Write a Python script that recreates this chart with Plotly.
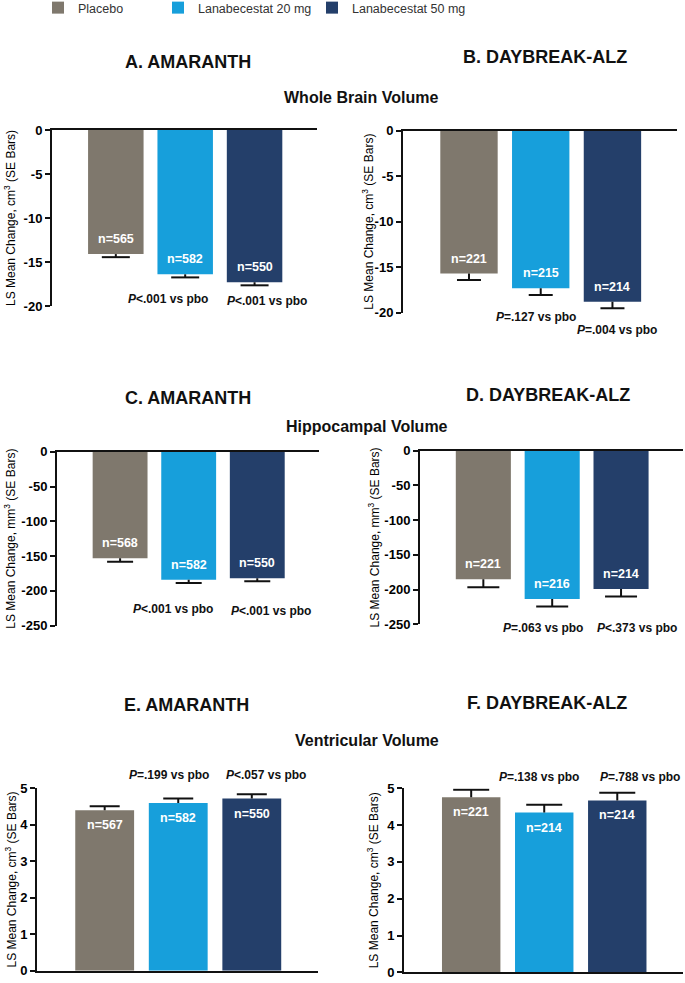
import plotly.graph_objects as go

W, H = 685, 983

def px(x):
    return x / W

def py(y):
    return 1 - y / H

# ---------------- data ----------------
groups = ["Placebo", "Lanabecestat 20 mg", "Lanabecestat 50 mg"]

amaranth_wbv = [-14.1, -16.4, -17.3]
amaranth_wbv_se = [0.35, 0.35, 0.35]
amaranth_wbv_n = [565, 582, 550]
amaranth_wbv_p = ["<i>P</i>&lt;.001 vs pbo", "<i>P</i>&lt;.001 vs pbo"]

daybreak_wbv = [-15.7, -17.3, -18.8]
daybreak_wbv_se = [0.7, 0.75, 0.7]
daybreak_wbv_n = [221, 215, 214]
daybreak_wbv_p = ["<i>P</i>=.127 vs pbo", "<i>P</i>=.004 vs pbo"]

amaranth_hv = [-153, -184, -182]
amaranth_hv_se = [5, 4.6, 4.2]
amaranth_hv_n = [568, 582, 550]
amaranth_hv_p = ["<i>P</i>&lt;.001 vs pbo", "<i>P</i>&lt;.001 vs pbo"]

daybreak_hv = [-185, -213.5, -199]
daybreak_hv_se = [11.5, 11, 11]
daybreak_hv_n = [221, 216, 214]
daybreak_hv_p = ["<i>P</i>=.063 vs pbo", "<i>P</i>&lt;.373 vs pbo"]

amaranth_vv = [4.40, 4.60, 4.72]
amaranth_vv_se = [0.11, 0.12, 0.12]
amaranth_vv_n = [567, 582, 550]
amaranth_vv_p = ["<i>P</i>=.199 vs pbo", "<i>P</i>&lt;.057 vs pbo"]

daybreak_vv = [4.76, 4.34, 4.67]
daybreak_vv_se = [0.2, 0.21, 0.21]
daybreak_vv_n = [221, 214, 214]
daybreak_vv_p = ["<i>P</i>=.138 vs pbo", "<i>P</i>=.788 vs pbo"]

wbv_ticks = [0, -5, -10, -15, -20]
hv_ticks = [0, -50, -100, -150, -200, -250]
vv_ticks = [0, 1, 2, 3, 4, 5]

panel_titles = ["A. AMARANTH", "B. DAYBREAK-ALZ", "C. AMARANTH",
                "D. DAYBREAK-ALZ", "E. AMARANTH", "F. DAYBREAK-ALZ"]
section_titles = ["Whole Brain Volume", "Hippocampal Volume", "Ventricular Volume"]
ytitle_cm = "LS Mean Change, cm<sup>3</sup> (SE Bars)"
ytitle_mm = "LS Mean Change, mm<sup>3</sup> (SE Bars)"

# ---------------- style / layout ----------------
colors = ["#7f786d", "#179fdb", "#243f6a"]
FONT = "Liberation Sans, Arial, sans-serif"
INK = "#111111"

panels = [
    dict(v=amaranth_wbv, se=amaranth_wbv_se, n=amaranth_wbv_n, p=amaranth_wbv_p,
         ticks=wbv_ticks, ytitle=ytitle_cm,
         xd=(52, 317), yd=(130, 306), title_xy=(188, 62), yt_x=10,
         p_xy=[(168, 299), (267, 301)], cap=14),
    dict(v=daybreak_wbv, se=daybreak_wbv_se, n=daybreak_wbv_n, p=daybreak_wbv_p,
         ticks=wbv_ticks, ytitle=ytitle_cm,
         xd=(403, 677), yd=(130.7, 312.7), title_xy=(545, 57), yt_x=368,
         p_xy=[(536, 317), (617, 330)], cap=12),
    dict(v=amaranth_hv, se=amaranth_hv_se, n=amaranth_hv_n, p=amaranth_hv_p,
         ticks=hv_ticks, ytitle=ytitle_mm,
         xd=(57, 319), yd=(451.7, 625.7), title_xy=(188, 398), yt_x=10,
         p_xy=[(173, 609), (271, 611)], cap=13),
    dict(v=daybreak_hv, se=daybreak_hv_se, n=daybreak_hv_n, p=daybreak_hv_p,
         ticks=hv_ticks, ytitle=ytitle_mm,
         xd=(420, 683), yd=(450.7, 624.3), title_xy=(548, 395), yt_x=373,
         p_xy=[(543, 628), (637, 628)], cap=16),
    dict(v=amaranth_vv, se=amaranth_vv_se, n=amaranth_vv_n, p=amaranth_vv_p,
         ticks=vv_ticks, ytitle=ytitle_cm,
         xd=(37, 318), yd=(788.3, 970.7), title_xy=(187, 705), yt_x=10,
         p_xy=[(169, 775), (266, 775)], cap=15),
    dict(v=daybreak_vv, se=daybreak_vv_se, n=daybreak_vv_n, p=daybreak_vv_p,
         ticks=vv_ticks, ytitle=ytitle_cm,
         xd=(404, 683), yd=(788.3, 972.3), title_xy=(547, 703), yt_x=373,
         p_xy=[(539, 777), (640, 777)], cap=18),
]
section_xy = [(361, 97), (367, 426), (366.5, 740)]

XR = [-0.92, 2.9]

fig = go.Figure()
annotations = []
layout_axes = {}

for k, P in enumerate(panels):
    sfx = "" if k == 0 else str(k + 1)
    xref, yref = "x" + sfx, "y" + sfx
    negative = min(P["v"]) < 0
    xs = list(range(len(groups)))

    for i, g in enumerate(groups):
        fig.add_trace(go.Bar(
            x=[xs[i]], y=[P["v"][i]], width=0.8, name=g,
            marker=dict(color=colors[i], line=dict(width=0)),
            xaxis=xref, yaxis=yref,
            showlegend=(k == 0),
            legend=("legend" if i == 0 else "legend" + str(i + 1)),
            hoverinfo="skip",
        ))

    # one-sided SE whiskers
    px_per_unit = (P["xd"][1] - P["xd"][0]) / (XR[1] - XR[0])
    hw = P["cap"] / px_per_unit
    ex, ey = [], []
    for i in range(len(groups)):
        v = P["v"][i]
        end = v - P["se"][i] if negative else v + P["se"][i]
        ex += [xs[i], xs[i], None, xs[i] - hw, xs[i] + hw, None]
        ey += [v, end, None, end, end, None]
    fig.add_trace(go.Scatter(
        x=ex, y=ey, mode="lines", line=dict(color=INK, width=2),
        xaxis=xref, yaxis=yref, showlegend=False, hoverinfo="skip",
    ))

    ticks = P["ticks"]
    yr = [min(ticks), max(ticks)]
    layout_axes["xaxis" + sfx] = dict(
        domain=[px(P["xd"][0]), px(P["xd"][1])], range=XR, anchor=yref,
        side="top" if negative else "bottom", automargin=False,
        showline=True, linecolor=INK, linewidth=2, ticks="",
        showticklabels=False, showgrid=False, zeroline=False,
    )
    layout_axes["yaxis" + sfx] = dict(
        domain=[py(P["yd"][1]), py(P["yd"][0])], range=yr, anchor=xref,
        automargin=False,
        showline=True, linecolor=INK, linewidth=2,
        ticks="outside", ticklen=5, tickwidth=2, tickcolor=INK,
        tickvals=ticks, ticktext=[f"<b>{t}</b>" for t in ticks],
        tickfont=dict(family=FONT, size=13, color="#000000"),
        showgrid=False, zeroline=False,
    )

    # n labels inside bars
    for i in range(len(groups)):
        annotations.append(dict(
            x=xs[i], y=P["v"][i], xref=xref, yref=yref,
            text=f"<b>n={P['n'][i]}</b>", showarrow=False,
            yshift=15 if negative else -15,
            font=dict(family=FONT, size=12.5, color="white"),
        ))
    # P-value labels
    for j, txt in enumerate(P["p"]):
        annotations.append(dict(
            x=px(P["p_xy"][j][0]), y=py(P["p_xy"][j][1]), xref="paper", yref="paper",
            text=f"<b>{txt}</b>", showarrow=False, xanchor="center", yanchor="middle",
            font=dict(family=FONT, size=12, color=INK),
        ))
    # panel title
    annotations.append(dict(
        x=px(P["title_xy"][0]), y=py(P["title_xy"][1]), xref="paper", yref="paper",
        text=f"<b>{panel_titles[k]}</b>", showarrow=False, xanchor="center", yanchor="middle",
        font=dict(family=FONT, size=18, color=INK),
    ))
    # y-axis title
    annotations.append(dict(
        x=px(P["yt_x"]), y=py((P["yd"][0] + P["yd"][1]) / 2), xref="paper", yref="paper",
        text=P["ytitle"], showarrow=False, textangle=-90,
        xanchor="center", yanchor="middle",
        font=dict(family=FONT, size=12, color="#000000"),
    ))

for s, (sx, sy) in zip(section_titles, section_xy):
    annotations.append(dict(
        x=px(sx), y=py(sy), xref="paper", yref="paper", text=f"<b>{s}</b>", showarrow=False,
        xanchor="center", yanchor="middle",
        font=dict(family=FONT, size=16, color=INK),
    ))

legend_font = dict(family=FONT, size=12.5, color="#333333")
legend_x = [38, 158, 312]
legends = {}
for i, lx in enumerate(legend_x):
    key = "legend" if i == 0 else "legend" + str(i + 1)
    legends[key] = dict(x=px(lx), y=py(8), xref="container", yref="container",
                        xanchor="left", yanchor="middle",
                        orientation="h", font=legend_font, bgcolor="rgba(0,0,0,0)",
                        borderwidth=0)

fig.update_layout(
    template="none",
    width=W, height=H, margin=dict(l=0, r=0, t=0, b=0, pad=0, autoexpand=False),
    paper_bgcolor="white", plot_bgcolor="white",
    barmode="overlay", annotations=annotations,
    font=dict(family=FONT, color=INK),
    **layout_axes, **legends,
)

fig.write_html(
    "out.html",
    config={"displayModeBar": False},
    post_script="document.body.style.margin='0';document.body.style.overflow='hidden';",
)
